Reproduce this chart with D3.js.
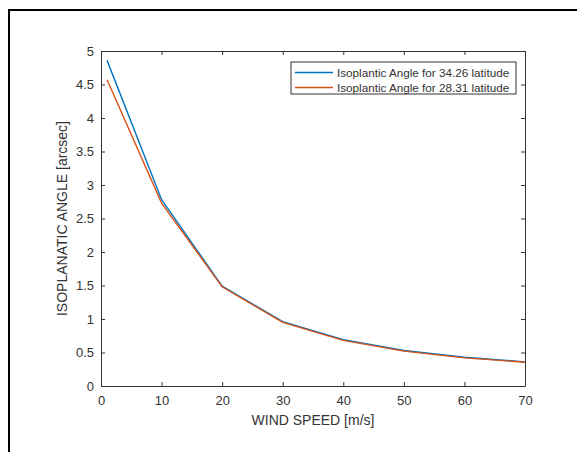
<!DOCTYPE html>
<html>
  <head>
    <meta charset="utf-8">
    <title>Isoplanatic Angle</title>
    <script src="https://d3js.org/d3.v7.min.js"></script>
    <style>
      body { margin: 0; background: #fff; }
      text { font-family: "Liberation Sans", Arial, sans-serif; fill: #333; }
    </style>
  </head>
  <body>
    <div id="chart"></div>
    <script>
      // Data
      var windSpeed = [1, 10, 20, 30, 40, 50, 60, 70];
      var angleLat3426 = [4.86, 2.78, 1.49, 0.96, 0.69, 0.53, 0.43, 0.36];
      var angleLat2831 = [4.57, 2.73, 1.48, 0.95, 0.68, 0.52, 0.42, 0.355];
      var seriesNames = ["Isoplantic Angle for 34.26 latitude", "Isoplantic Angle for 28.31 latitude"];
      var xTicks = [0, 10, 20, 30, 40, 50, 60, 70];
      var yTicks = [0, 0.5, 1, 1.5, 2, 2.5, 3, 3.5, 4, 4.5, 5];

      var W = 577, H = 452;
      var margin = {top: 51, right: 52, bottom: 66, left: 101},
          width = W - margin.left - margin.right,
          height = H - margin.top - margin.bottom;

      var svgRoot = d3.select("#chart")
        .append("svg")
          .attr("width", W)
          .attr("height", H);

      // outer frame (only top and left edges are visible in the picture)
      svgRoot.append("path")
        .attr("d", "M9," + H + "V10H" + W)
        .attr("fill", "none")
        .attr("stroke", "#000")
        .attr("stroke-width", 2);

      var svg = svgRoot.append("g")
        .attr("transform", "translate(" + margin.left + "," + margin.top + ")");

      var x = d3.scaleLinear().domain([0, 70]).range([0, width]);
      var y = d3.scaleLinear().domain([0, 5]).range([height, 0]);

      var axisColor = "#333";
      var fmt = function(d) { return String(d); };

      // bottom axis, ticks inside
      var gx = svg.append("g")
        .attr("transform", "translate(0," + height + ")")
        .call(d3.axisBottom(x).tickValues(xTicks).tickSizeInner(-4).tickSizeOuter(0).tickPadding(10).tickFormat(fmt));
      // top axis (ticks only)
      var gxt = svg.append("g")
        .call(d3.axisTop(x).tickValues(xTicks).tickSizeInner(-4).tickSizeOuter(0).tickFormat(""));
      // left axis
      var gy = svg.append("g")
        .call(d3.axisLeft(y).tickValues(yTicks).tickSizeInner(-4).tickSizeOuter(0).tickPadding(7).tickFormat(fmt));
      // right axis (ticks only)
      var gyr = svg.append("g")
        .attr("transform", "translate(" + width + ",0)")
        .call(d3.axisRight(y).tickValues(yTicks).tickSizeInner(-4).tickSizeOuter(0).tickFormat(""));

      [gx, gxt, gy, gyr].forEach(function(g) {
        g.selectAll("path.domain").attr("stroke", axisColor);
        g.selectAll(".tick line").attr("stroke", axisColor);
        g.selectAll(".tick text")
          .style("font-family", "'Liberation Sans', Arial, sans-serif")
          .style("font-size", "13px")
          .attr("fill", "#333");
      });

      // axis titles
      svg.append("text")
        .attr("x", width / 2)
        .attr("y", height + 39)
        .attr("text-anchor", "middle")
        .style("font-size", "14px")
        .text("WIND SPEED [m/s]");

      svg.append("text")
        .attr("transform", "translate(-34," + (height / 2) + ") rotate(-90)")
        .attr("text-anchor", "middle")
        .style("font-size", "14px")
        .text("ISOPLANATIC ANGLE [arcsec]");

      // lines
      var colors = ["#0072BD", "#D95319"];
      var series = [angleLat3426, angleLat2831];
      var line = d3.line()
        .x(function(d, i) { return x(windSpeed[i]); })
        .y(function(d) { return y(d); });

      series.forEach(function(s, k) {
        svg.append("path")
          .datum(s)
          .attr("fill", "none")
          .attr("stroke", colors[k])
          .attr("stroke-width", 1.4)
          .attr("d", line);
      });

      // legend
      var lg = svg.append("g")
        .attr("transform", "translate(" + (291 - margin.left) + "," + (62 - margin.top) + ")");
      lg.append("rect")
        .attr("width", 225)
        .attr("height", 32)
        .attr("fill", "#fff")
        .attr("stroke", axisColor)
        .attr("stroke-width", 1);
      seriesNames.forEach(function(name, k) {
        var yy = 10.5 + k * 15;
        lg.append("line")
          .attr("x1", 4).attr("x2", 42)
          .attr("y1", yy).attr("y2", yy)
          .attr("stroke", colors[k])
          .attr("stroke-width", 1.4);
        lg.append("text")
          .attr("x", 46)
          .attr("y", yy + 4)
          .style("font-size", "11.7px")
          .text(name);
      });
    </script>
  </body>
</html>
